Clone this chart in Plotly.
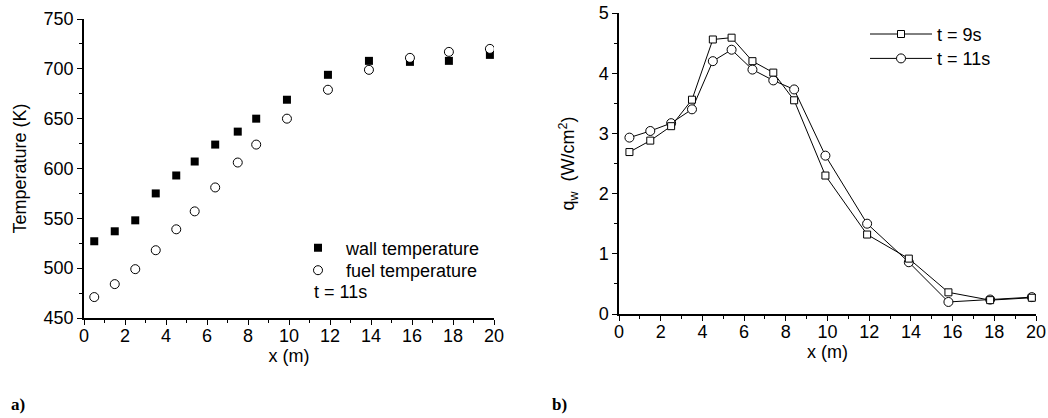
import plotly.graph_objects as go

# ---- data ----
x_pos = [0.5, 1.5, 2.5, 3.5, 4.5, 5.4, 6.4, 7.5, 8.4, 9.9, 11.9, 13.9, 15.9, 17.8, 19.8]
wall_temp = [527, 537, 548, 575, 593, 607, 624, 637, 650, 669, 694, 708, 707, 708, 714]
fuel_temp = [471, 484, 499, 518, 539, 557, 581, 606, 624, 650, 679, 699, 711, 717, 720]

qx = [0.5, 1.5, 2.5, 3.5, 4.5, 5.4, 6.4, 7.4, 8.4, 9.9, 11.9, 13.9, 15.8, 17.8, 19.8]
q_t9 = [2.69, 2.88, 3.12, 3.56, 4.56, 4.59, 4.20, 4.01, 3.55, 2.30, 1.32, 0.92, 0.36, 0.23, 0.27]
q_t11 = [2.93, 3.04, 3.17, 3.40, 4.20, 4.39, 4.06, 3.88, 3.73, 2.63, 1.50, 0.86, 0.20, 0.24, 0.28]

x_ticks = [0, 2, 4, 6, 8, 10, 12, 14, 16, 18, 20]
temp_ticks = [450, 500, 550, 600, 650, 700, 750]
q_ticks = [0, 1, 2, 3, 4, 5]

FONT = "Liberation Sans, Arial, sans-serif"
FS = 18

fig = go.Figure()

fig.add_trace(go.Scatter(
    x=x_pos, y=wall_temp, mode="markers", name="wall temperature",
    marker=dict(symbol="square", size=8, color="black", line=dict(width=0)),
    xaxis="x", yaxis="y", legend="legend"))
fig.add_trace(go.Scatter(
    x=x_pos, y=fuel_temp, mode="markers", name="fuel temperature",
    marker=dict(symbol="circle", size=9, color="white", line=dict(width=1, color="black")),
    xaxis="x", yaxis="y", legend="legend2"))

fig.add_trace(go.Scatter(
    x=qx, y=q_t11, mode="lines+markers", name="t = 11s",
    line=dict(color="black", width=1),
    marker=dict(symbol="circle", size=9, color="white", line=dict(width=1, color="black")),
    xaxis="x2", yaxis="y2", legend="legend4"))
fig.add_trace(go.Scatter(
    x=qx, y=q_t9, mode="lines+markers", name="t = 9s",
    line=dict(color="black", width=1),
    marker=dict(symbol="square", size=7, color="white", line=dict(width=1, color="black")),
    xaxis="x2", yaxis="y2", legend="legend3"))

W, H = 1048, 418

def px_x(p):
    return p / W

def px_y(p):
    return 1 - p / H

axis_common = dict(
    showline=True, linecolor="black", linewidth=1.5, ticks="outside", ticklen=5,
    tickwidth=1.2, tickcolor="black", showgrid=False, zeroline=False, automargin=False,
    ticklabeloverflow="allow",
    tickfont=dict(family=FONT, size=FS, color="black"),
    minor=dict(ticks="outside", ticklen=3, tickwidth=1, tickcolor="black", showgrid=False),
)

def leg(xp, yp, iw):
    return dict(x=px_x(xp), y=px_y(yp), xanchor="left", yanchor="top",
                bgcolor="rgba(0,0,0,0)", font=dict(family=FONT, size=FS),
                itemwidth=iw)

fig.update_layout(
    width=W, height=H,
    margin=dict(l=0, r=0, t=0, b=0, autoexpand=False),
    plot_bgcolor="white", paper_bgcolor="white",
    font=dict(family=FONT, size=FS, color="black"),
    xaxis=dict(axis_common, domain=[px_x(84), px_x(494)], range=[0, 20],
               tickvals=x_ticks, minor=dict(axis_common["minor"], dtick=1),
               ticklabelstandoff=-4,
               anchor="y", title=dict(text="x (m)", standoff=2,
                                      font=dict(family=FONT, size=FS))),
    yaxis=dict(axis_common, domain=[px_y(318), px_y(19)], range=[450, 750],
               tickvals=temp_ticks, minor=dict(axis_common["minor"], dtick=25),
               anchor="x", title=dict(text="Temperature (K)", standoff=12,
                                      font=dict(family=FONT, size=FS))),
    xaxis2=dict(axis_common, domain=[px_x(619), px_x(1036)], range=[0, 20],
                tickvals=x_ticks, minor=dict(axis_common["minor"], dtick=1),
                ticklabelstandoff=-4,
                anchor="y2", title=dict(text="x (m)", standoff=2,
                                        font=dict(family=FONT, size=FS))),
    yaxis2=dict(axis_common, domain=[px_y(314), px_y(13)], range=[0, 5],
                tickvals=q_ticks, minor=dict(axis_common["minor"], dtick=0.5),
                anchor="x2", title=dict(text="q<sub>w</sub>  (W/cm<sup>2</sup>)", standoff=19,
                                        font=dict(family=FONT, size=FS))),
    legend=leg(290, 229.5, 46),
    legend2=leg(290, 252, 46),
    legend3=leg(865, 15.8, 62),
    legend4=leg(865, 40.2, 62),
    showlegend=True,
)

fig.add_annotation(text="t = 11s", x=px_x(312), y=px_y(292), xref="paper", yref="paper",
                   xanchor="left", yanchor="middle", showarrow=False,
                   font=dict(family=FONT, size=FS, color="black"))
fig.add_annotation(text="<b>a)</b>", x=px_x(9), y=px_y(404), xref="paper", yref="paper",
                   xanchor="left", yanchor="middle", showarrow=False,
                   font=dict(family="Liberation Serif, Times New Roman, serif", size=17, color="black"))
fig.add_annotation(text="<b>b)</b>", x=px_x(550), y=px_y(404), xref="paper", yref="paper",
                   xanchor="left", yanchor="middle", showarrow=False,
                   font=dict(family="Liberation Serif, Times New Roman, serif", size=17, color="black"))

fig.write_html("out.html", config={"displayModeBar": False},
               post_script="document.body.style.margin='0';")
